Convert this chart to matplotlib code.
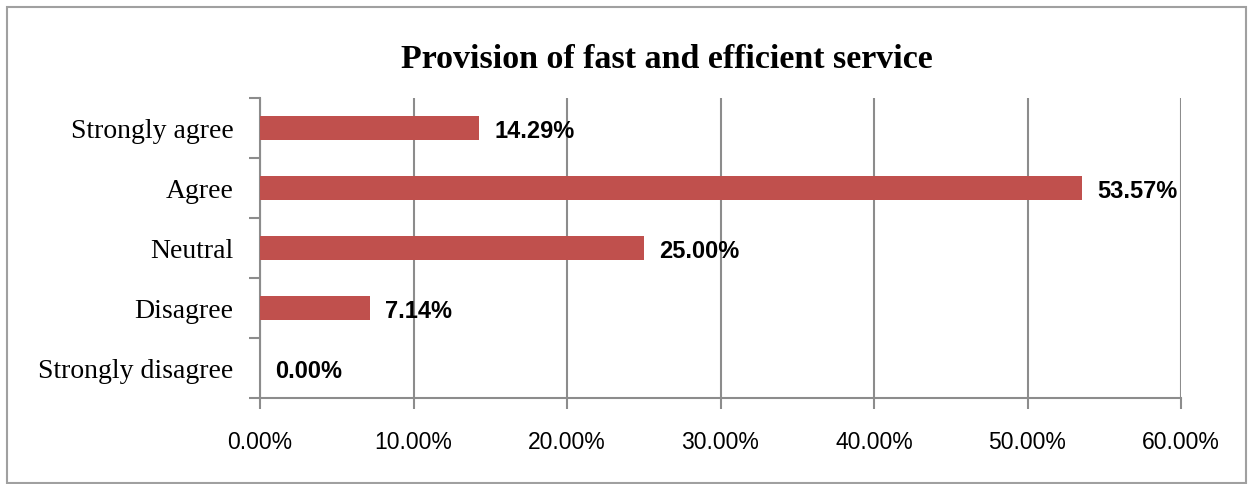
import matplotlib.pyplot as plt
from matplotlib.patches import Rectangle
from matplotlib.ticker import FuncFormatter

categories = ['Strongly disagree', 'Disagree', 'Neutral', 'Agree', 'Strongly agree']
shares = [0.00, 7.14, 25.00, 53.57, 14.29]
x_ticks = [0, 10, 20, 30, 40, 50, 60]

bar_color = '#C0504D'
line_gray = '#8C8C8C'

fig = plt.figure(figsize=(12.48, 4.85), dpi=100)
ax = fig.add_axes([260 / 1248, 1 - 399 / 485, 921 / 1248, 300 / 485])

ypos = range(len(categories))
ax.barh(ypos, shares, height=0.4, color=bar_color, zorder=3)

for y, v in zip(ypos, shares):
    ax.annotate(f'{v:.2f}%', (v, y), xytext=(11, -1.5), textcoords='offset points',
                ha='left', va='center', fontsize=17, fontweight='bold',
                family='Liberation Sans', zorder=4)

ax.set_xlim(0, 60)
ax.set_ylim(-0.5, len(categories) - 0.5)
ax.set_xticks(x_ticks)
ax.xaxis.set_major_formatter(FuncFormatter(lambda v, _: f'{v:.2f}%'))
ax.set_yticks(list(ypos))
ax.set_yticklabels(categories, family='Liberation Serif', fontsize=20)
# category separators drawn as minor ticks
ax.set_yticks([i - 0.5 for i in range(len(categories) + 1)], minor=True)

ax.grid(axis='x', color=line_gray, linewidth=1.5, zorder=0)
for side in ['top', 'right']:
    ax.spines[side].set_visible(False)
for side in ['left', 'bottom']:
    ax.spines[side].set_color(line_gray)
    ax.spines[side].set_linewidth(1.5)

ax.tick_params(axis='x', length=8, width=1.5, color=line_gray, direction='out',
               pad=15, labelsize=16.5)
ax.tick_params(axis='y', which='major', length=0, pad=19)
ax.tick_params(axis='y', which='minor', length=8, width=1.5, color=line_gray)
for lab in ax.get_xticklabels():
    lab.set_family('Liberation Sans')

fig.text(667 / 1248, 1 - 59 / 485, 'Provision of fast and efficient service',
         ha='center', va='center', fontsize=24.5, fontweight='bold',
         family='Liberation Serif')

fig.patches.append(Rectangle((7 / 1248, 1 / 485), 1239 / 1248, 476 / 485,
                             transform=fig.transFigure, fill=False,
                             edgecolor='#A0A0A0', linewidth=1.5))

fig.savefig('out.png', dpi=100)
